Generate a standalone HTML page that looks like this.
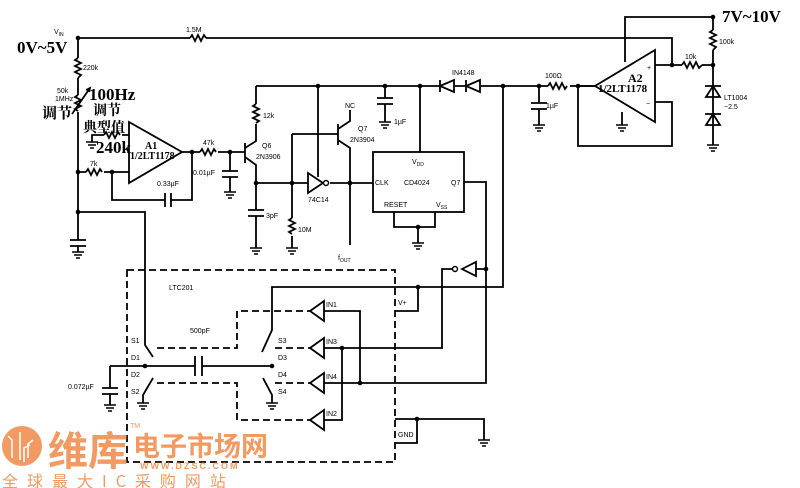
<!DOCTYPE html>
<html><head><meta charset="utf-8"><style>
html,body{margin:0;padding:0;background:#fff;}
svg{display:block;}
.s{font-family:"Liberation Sans",sans-serif;font-size:7px;fill:#000;}
.b{font-family:"Liberation Serif","Noto Serif CJK SC",serif;font-weight:bold;fill:#000;}
</style></head><body>
<svg width="800" height="488" viewBox="0 0 800 488" xmlns="http://www.w3.org/2000/svg">
<defs>
<g id="gnd" stroke="#000" stroke-width="1.5"><line x1="-6" y1="0" x2="6" y2="0"/><line x1="-4" y1="3" x2="4" y2="3"/><line x1="-2" y1="6" x2="2" y2="6"/></g>
</defs>
<g fill="none" stroke="#000" stroke-width="1.8">
<path d="M78 38 H190 M206 38 H672 V65"/>
<path d="M190 38 l2 -3 l3 6 l3 -6 l3 6 l3 -6 l2 3"/>
<path d="M625 62 V17 H713 V30 M713 50 V65"/>
<path d="M713 30 l-3 2 l6 3 l-6 3 l6 3 l-6 3 l6 3 l-3 3"/>
<path d="M655 50 L595 86 L655 122 Z"/>
<path d="M655 65 H682 M702 65 H713 V85"/>
<path d="M682 65 l2 -3 l3 6 l3 -6 l3 6 l3 -6 l3 6 l3 -3"/>
<path d="M655 102 H672 V146 H578 V86 H595"/>
<path d="M622 112 V125"/>
<path d="M713 85 V145"/>
<path d="M706 97 H720 L713 86 Z M705 86 H721"/>
<path d="M706 125 H720 L713 114 Z M705 114 H721"/>
<path d="M256 86 H440 M455 86 H466 M481 86 H548 M570 86 H595"/>
<path d="M548 86 l2 -3 l3 6 l3 -6 l3 6 l3 -6 l3 6 l2 -3"/>
<path d="M440 80 V92 M440 86 L454 80 V92 Z"/>
<path d="M466 80 V92 M466 86 L480 80 V92 Z"/>
<path d="M539 86 V103 M531 103 H547 M531 109 H547 M539 109 V125"/>
<path d="M385 86 V98 M377 98 H393 M377 104 H393 M385 104 V122"/>
<path d="M420 86 V152"/>
<path d="M503 86 V287 H272 V330 L262 352"/>
<rect x="373" y="152" width="91" height="60"/>
<path d="M394 212 V227 H435 V212 M418 227 V243"/>
<path d="M464 182 H486 V383 H324"/>
<path d="M486 269 H476 M462 269 L476 262 V276 Z M453 269 H442 V348 H324"/>
<path d="M395 311 H418 V287"/>
<path d="M395 419 H484 V440 M417 419 V443 H395"/>
<path d="M78 38 V58 M78 78 V95 M78 112 V240 M78 246 V252"/>
<path d="M78 58 l-3 2 l6 3 l-6 3 l6 3 l-6 3 l6 3 l-3 3"/>
<path d="M78 95 l-3 2 l6 3 l-6 3 l6 3 l-6 3 l3 2"/>
<path d="M72 114 L90 88 M86 90 l4 -2 l-1 4"/>
<path d="M70 240 H86 M70 246 H86"/>
<path d="M78 212 H145 V345 L153 357"/>
<path d="M129 122 L182 152 L129 183 Z"/>
<path d="M78 172 H86 M104 172 H129"/>
<path d="M86 172 l2 -3 l3 6 l3 -6 l3 6 l3 -6 l2 3"/>
<path d="M129 135 H122 M104 135 H92 V142"/>
<path d="M104 135 l2 -3 l3 6 l3 -6 l3 6 l3 -6 l2 3"/>
<path d="M112 172 V200 H165 M171 200 H192 V152"/>
<path d="M165 193 V207 M171 193 V207"/>
<path d="M182 152 H200 M218 152 H245"/>
<path d="M200 152 l2 -3 l3 6 l3 -6 l3 6 l3 -6 l2 3"/>
<path d="M230 152 V171 M222 171 H238 M222 177 H238 M230 177 V192"/>
<path d="M245 143 V163 M245 148 L256 141 V124 M256 104 V86 M245 157 L256 165 V183"/>
<path d="M256 104 l-3 2 l6 3 l-6 3 l6 3 l-6 3 l6 3 l-3 2"/>
<path d="M256 183 H308 M330 183 H373"/>
<path d="M256 183 V210 M248 210 H264 M248 216 H264 M256 216 V248"/>
<path d="M292 134 V218 M292 236 V248"/>
<path d="M292 218 l-3 2 l6 3 l-6 3 l6 3 l-6 3 l3 2"/>
<path d="M308 173 L323 183 L308 193 Z"/>
<path d="M318 86 V177"/>
<path d="M292 134 H338 M338 124 V145 M338 129 L350 121 V110 M338 140 L350 148 V245"/>
<path d="M110 366 H195 M202 366 H272"/>
<path d="M195 356 V376 M202 356 V376"/>
<path d="M110 366 V388 M102 388 H118 M102 394 H118 M110 394 V405"/>
<path d="M153 378 L143 395 V403"/>
<path d="M263 378 L272 395 V403"/>
<path d="M324 311 H360 V383 M342 348 V420 H324"/>
<path d="M310 311 L324 301 V321 Z M310 348 L324 338 V358 Z M310 383 L324 373 V393 Z M310 420 L324 410 V430 Z"/>
</g>
<g fill="none" stroke="#000" stroke-width="1.8" stroke-dasharray="7,4">
<rect x="127" y="270" width="268" height="192"/>
<path d="M157 348 H237 V311 H310"/>
<path d="M157 383 H237 V420 H310"/>
<path d="M275 348 H310 M275 383 H310"/>
</g>
<g fill="#000">
<circle cx="78" cy="38" r="2.3"/><circle cx="672" cy="65" r="2.3"/><circle cx="713" cy="17" r="2.3"/><circle cx="713" cy="65" r="2.3"/>
<circle cx="578" cy="86" r="2.3"/><circle cx="539" cy="86" r="2.3"/><circle cx="503" cy="86" r="2.3"/><circle cx="420" cy="86" r="2.3"/><circle cx="385" cy="86" r="2.3"/><circle cx="318" cy="86" r="2.3"/>
<circle cx="78" cy="172" r="2.3"/><circle cx="112" cy="172" r="2.3"/><circle cx="78" cy="212" r="2.3"/><circle cx="192" cy="152" r="2.3"/><circle cx="230" cy="152" r="2.3"/>
<circle cx="256" cy="183" r="2.3"/><circle cx="292" cy="183" r="2.3"/><circle cx="350" cy="183" r="2.3"/><circle cx="418" cy="227" r="2.3"/>
<circle cx="486" cy="269" r="2.3"/><circle cx="418" cy="287" r="2.3"/><circle cx="145" cy="366" r="2.3"/><circle cx="272" cy="366" r="2.3"/>
<circle cx="342" cy="348" r="2.3"/><circle cx="360" cy="383" r="2.3"/><circle cx="417" cy="419" r="2.3"/>
</g>
<g fill="#fff" stroke="#000" stroke-width="1.4"><circle cx="326" cy="183" r="2.5"/><circle cx="455" cy="269" r="2.5"/></g>
<use href="#gnd" x="92" y="142"/><use href="#gnd" x="78" y="252"/><use href="#gnd" x="230" y="192"/><use href="#gnd" x="256" y="248"/><use href="#gnd" x="292" y="248"/>
<use href="#gnd" x="418" y="243"/><use href="#gnd" x="385" y="122"/><use href="#gnd" x="539" y="125"/><use href="#gnd" x="622" y="125"/><use href="#gnd" x="713" y="145"/>
<use href="#gnd" x="110" y="405"/><use href="#gnd" x="143" y="403"/><use href="#gnd" x="272" y="403"/><use href="#gnd" x="484" y="440"/>
<text class="s" x="54" y="34">V<tspan font-size="5" dy="2">IN</tspan></text>
<text class="b" x="17" y="53" font-size="17" font-weight="normal">0V~5V</text>
<text class="s" x="186" y="32">1.5M</text>
<text class="s" x="83" y="70">220k</text>
<text class="s" x="57" y="93">50k</text>
<text class="s" x="55" y="101">1MHz</text>
<text class="b" x="42" y="118" font-size="15">调节</text>
<text class="b" x="89" y="100" font-size="17" font-weight="normal">100Hz</text>
<text class="b" x="93" y="115" font-size="14">调节</text>
<text class="b" x="83" y="132" font-size="14">典型值</text>
<text class="b" x="96" y="153" font-size="17" font-weight="normal">240k</text>
<text class="b" x="145" y="149" font-size="10" font-weight="normal">A1</text>
<text class="b" x="130" y="159" font-size="10" font-weight="normal">1/2LT1178</text>
<text class="s" x="90" y="166">7k</text>
<text class="s" x="157" y="186">0.33µF</text>
<text class="s" x="203" y="145">47k</text>
<text class="s" x="193" y="175">0.01µF</text>
<text class="s" x="263" y="118">12k</text>
<text class="s" x="262" y="148">Q6</text><text class="s" x="256" y="159">2N3906</text>
<text class="s" x="345" y="108">NC</text>
<text class="s" x="358" y="131">Q7</text><text class="s" x="350" y="142">2N3904</text>
<text class="s" x="308" y="202">74C14</text>
<text class="s" x="266" y="218">3pF</text>
<text class="s" x="298" y="232">10M</text>
<text class="s" x="338" y="260">f<tspan font-size="5" dy="2">OUT</tspan></text>
<text class="s" x="394" y="124">1µF</text>
<text class="s" x="412" y="164">V<tspan font-size="5" dy="2">DD</tspan></text>
<text class="s" x="375" y="185">CLK</text><text class="s" x="404" y="185">CD4024</text><text class="s" x="451" y="185">Q7</text>
<text class="s" x="384" y="207">RESET</text><text class="s" x="436" y="207">V<tspan font-size="5" dy="2">SS</tspan></text>
<text class="s" x="452" y="75">IN4148</text>
<text class="s" x="545" y="78">100Ω</text>
<text class="s" x="546" y="108">1µF</text>
<text class="b" x="628" y="82" font-size="12" font-weight="normal">A2</text>
<text class="b" x="598" y="92" font-size="11" font-weight="normal">1/2LT1178</text>
<text class="s" x="647" y="70">+</text><text class="s" x="646" y="106">−</text>
<text class="s" x="685" y="59">10k</text>
<text class="s" x="719" y="44">100k</text>
<text class="s" x="724" y="100">LT1004</text><text class="s" x="724" y="109">−2.5</text>
<text class="b" x="722" y="22" font-size="17" font-weight="normal">7V~10V</text>
<text class="s" x="169" y="290">LTC201</text>
<text class="s" x="190" y="333">500pF</text>
<text class="s" x="131" y="343">S1</text><text class="s" x="131" y="360">D1</text><text class="s" x="131" y="377">D2</text><text class="s" x="131" y="394">S2</text>
<text class="s" x="278" y="343">S3</text><text class="s" x="278" y="360">D3</text><text class="s" x="278" y="377">D4</text><text class="s" x="278" y="394">S4</text>
<text class="s" x="326" y="307">IN1</text><text class="s" x="326" y="344">IN3</text><text class="s" x="326" y="379">IN4</text><text class="s" x="326" y="416">IN2</text>
<text class="s" x="398" y="305">V+</text><text class="s" x="398" y="437">GND</text>
<text class="s" x="68" y="389">0.072µF</text>
<circle cx="22" cy="446" r="20" fill="#f39a62"/>
<g stroke="#fff" stroke-width="1.5" fill="none"><path d="M12 458 V440 l-4 -4 M20 460 V432 M28 458 V444 l5 -4 M24 462 V448 l6 -3"/></g>
<text x="48" y="465" font-family="Noto Sans CJK SC, sans-serif" font-size="40" font-weight="bold" fill="#f39a62">维库</text>
<text x="133" y="456" font-family="Noto Sans CJK SC, sans-serif" font-size="27" font-weight="bold" fill="#f39a62">电子市场网</text>
<text x="130" y="428" font-family="Liberation Sans, sans-serif" font-size="7" fill="#f39a62">TM</text>
<text x="140" y="469" font-family="Liberation Sans, sans-serif" font-size="9" font-weight="bold" fill="#f39a62" letter-spacing="2">WWW.DZSC.COM</text>
<text x="2" y="487" font-family="Noto Sans CJK SC, sans-serif" font-size="16" fill="#f39a62" letter-spacing="9">全球最大IC采购网站</text>
</svg>
</body></html>
